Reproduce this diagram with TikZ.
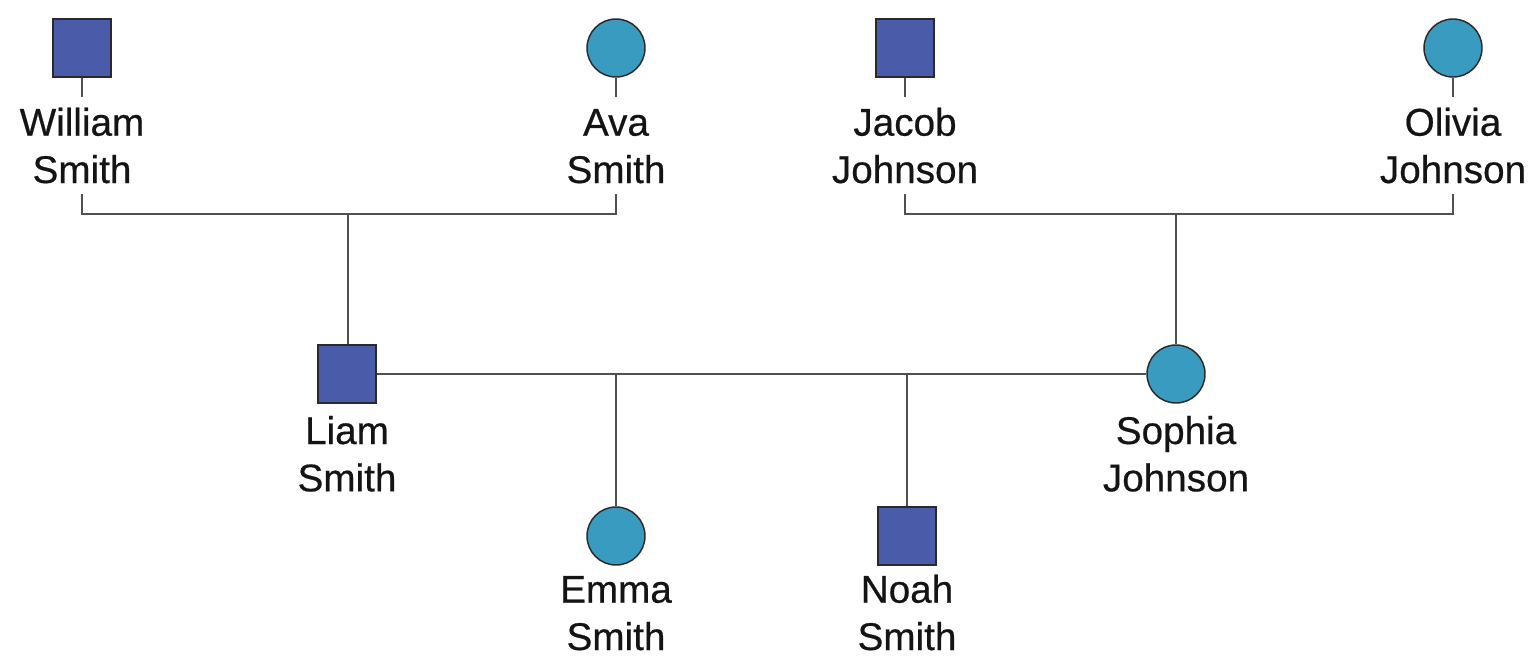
\documentclass[tikz,border=0pt]{standalone}
\usepackage{fontspec}
\setmainfont{Liberation Sans}[FakeBold=0.5]
\definecolor{malecol}{HTML}{4A5BAA}
\definecolor{femalecol}{HTML}{3A9BC0}
\definecolor{edgecol}{HTML}{2A2A2A}
\definecolor{linkcol}{HTML}{505050}
\newcommand{\twoline}[2]{\vphantom{Wl}#1\\#2}
\tikzset{
  malebox/.style={rectangle, draw=edgecol, fill=malecol, line width=1.1pt, minimum size=43.5pt, inner sep=0pt},
  femalecirc/.style={circle, draw=edgecol, fill=femalecol, line width=1.1pt, minimum size=43.5pt, inner sep=0pt},
  persontext/.style={align=center, font=\fontsize{29}{35.5}\selectfont\addfontfeature{FakeBold=0.5}, text=black!92, inner xsep=0pt, inner ysep=8pt, anchor=north},
  linkline/.style={draw=linkcol, line width=1.6pt}
}
\begin{document}
\begin{tikzpicture}[x=0.75pt, y=-0.75pt]
\useasboundingbox (0,0) rectangle (1528,656);
% top generation
\node[malebox] (W) at (82,48) {};
\node[femalecirc] (A) at (616,48) {};
\node[malebox] (J) at (905,48) {};
\node[femalecirc] (O) at (1453,48) {};
\node[persontext] (WT) at ([yshift=-14.25pt]W.south) {\twoline{William}{Smith}};
\node[persontext] (AT) at ([yshift=-14.25pt]A.south) {\twoline{Ava}{Smith}};
\node[persontext] (JT) at ([yshift=-14.25pt]J.south) {\twoline{Jacob}{Johnson}};
\node[persontext] (OT) at ([yshift=-14.25pt]O.south) {\twoline{Olivia}{Johnson}};
% middle generation
\node[malebox] (L) at (347,374) {};
\node[femalecirc] (S) at (1176,374) {};
\node[persontext] (LT) at ([yshift=-1pt]L.south) {\twoline{Liam}{Smith}};
\node[persontext] (ST) at ([yshift=-1pt]S.south) {\twoline{Sophia}{Johnson}};
% children
\node[femalecirc] (E) at (616,536) {};
\node[malebox] (N) at (907,536) {};
\node[persontext, inner ysep=0pt] (ET) at ([yshift=-6.5pt]E.south) {\twoline{Emma}{Smith}};
\node[persontext, inner ysep=0pt] (NT) at ([yshift=-6.5pt]N.south) {\twoline{Noah}{Smith}};
% junctions
\coordinate (j1) at (348,214);
\coordinate (j2) at (1176,214);
\coordinate (c1) at (616,374);
\coordinate (c2) at (907,374);
% stubs
\foreach \s/\t in {W/WT,A/AT,J/JT,O/OT} \draw[linkline] (\s.south) -- (\t.north);
% marriage lines
\draw[linkline] (WT.south) -- (WT.south |- j1) -- (AT.south |- j1) -- (AT.south);
\draw[linkline] (JT.south) -- (JT.south |- j2) -- (OT.south |- j2) -- (OT.south);
\draw[linkline] (j1) -- (j1 |- L.north);
\draw[linkline] (j2) -- (S.north);
\draw[linkline] (L.east) -- (S.west);
\draw[linkline] (c1) -- (E.north);
\draw[linkline] (c2) -- (N.north);
\end{tikzpicture}
\end{document}
